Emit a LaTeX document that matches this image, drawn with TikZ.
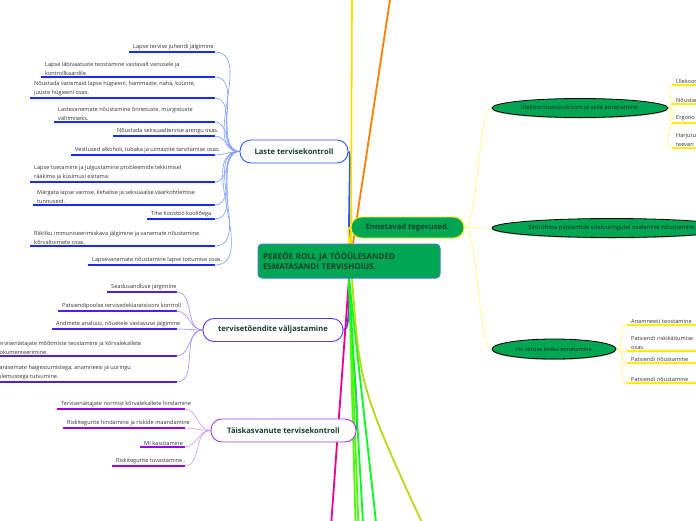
\documentclass[tikz,border=0pt]{standalone}
\usepackage{fontspec}
\setmainfont{Open Sans}
\usepackage{tikz}
\usetikzlibrary{positioning, calc, shapes.geometric, shadows, backgrounds}

\definecolor{mapgreen}{HTML}{00A651}
\definecolor{deepgreen}{HTML}{17402B}
\definecolor{leafgray}{HTML}{333333}
\definecolor{rootblue}{HTML}{3F7FD0}
\definecolor{lasteblue}{HTML}{2A5BFF}
\definecolor{lasteline}{HTML}{1A2AFF}
\definecolor{lastetwig}{HTML}{7C9CFF}
\definecolor{tvviolet}{HTML}{5A3CFF}
\definecolor{tvline}{HTML}{4A20F0}
\definecolor{tvtwig}{HTML}{9C8CFF}
\definecolor{tkpurple}{HTML}{A23CF0}
\definecolor{tkline}{HTML}{9A00EE}
\definecolor{tktwig}{HTML}{C896FF}
\definecolor{ennyellow}{HTML}{FFF200}
\definecolor{yline}{HTML}{FFEE00}
\definecolor{ytwig}{HTML}{FFFF70}

\begin{document}
\begin{tikzpicture}[
  x=1pt, y=-1pt,
  font=\fontsize{5.6}{9}\selectfont,
  leaf/.style={anchor=south west, inner xsep=4pt, inner ysep=1.5pt,
    align=left, text=leafgray},
  rleaf/.style={leaf, text width=#1pt},
  branch/.style={draw, fill=white, rounded corners=11pt, minimum height=23pt,
    line width=0.9pt, text=deepgreen, font=\fontsize{7.6}{9}\selectfont\bfseries},
  root/.style={draw=rootblue, fill=mapgreen, rounded corners=4pt, line width=1pt,
    minimum width=182pt, minimum height=34pt, text width=172pt, align=left,
    text=deepgreen, font=\fontsize{8}{10.5}\selectfont\bfseries},
  oval/.style={ellipse, draw=black, line width=0.8pt, fill=mapgreen, inner sep=0pt,
    minimum height=19pt, text=black!85, font=\fontsize{5.9}{7}\selectfont,
    drop shadow={shadow xshift=0pt, shadow yshift=-1pt, fill=black!60}},
  uline/.style={line width=1.4pt},
  twig/.style={line width=0.6pt},
  limb/.style={line width=1.8pt},
]
  \useasboundingbox (0,0) rectangle (696,520);

  \node[root] (root) at (349,261) {PEREÕE ROLL JA TÖÖÜLESANDED\\ESMATASANDI TERVISHOIUS.};

  \node[branch, draw=lasteblue, minimum width=108pt] (laste) at (294,151.5) {Laste tervisekontroll};
  \node[branch, draw=tvviolet, minimum width=140pt] (tv) at (273,330) {tervisetõendite väljastamine};
  \node[branch, draw=tkpurple, minimum width=145pt] (tk) at (283.5,430.5) {Täiskasvanute tervisekontroll};
  \node[branch, draw=ennyellow, fill=mapgreen, minimum width=113pt, minimum height=21pt,
    rounded corners=10.5pt, font=\fontsize{7.6}{9}\selectfont\bfseries] (enn) at (407.5,227.5) {Ennetavad tegevused.};

  \node[oval, minimum width=176pt] (uk) at (580,108) {Ülekoormussündroom ja selle ennetamine.};
  \node[oval, minimum width=240pt] (sr) at (612,228) {Sihtrühma patsientide sõeluuringutel osalemise nõustamine.};
  \node[oval, minimum width=124pt, minimum height=20pt, font=\fontsize{5.6}{7}\selectfont] (hi) at (554,349) {HI- viiruse leviku ennetamine};

  % laste tervisekontroll
  \node[leaf] (lt1) at (129,52) {Lapse tervise juhendi jälgimine};
  \node[leaf] (lt2) at (41,77) {Lapse läbivaatuste teostamine vastavalt vanusele ja\\kontrollkaardile.};
  \node[leaf] (lt3) at (30,98) {Nõustada vanemaid lapse hügieeni, hammaste, naha, küünte,\\juuste hügieeni osas.};
  \node[leaf] (lt4) at (54,122) {Lastevanemate nõustamine õnnetuste, mürgistuste\\vältimiseks.};
  \node[leaf] (lt5) at (113,136) {Nõustada seksuaaltervise arengu osas.};
  \node[leaf] (lt6) at (71,155) {Vestlused alkoholi, tubaka ja uimastite tarvitamise osas.};
  \node[leaf] (lt7) at (30,182) {Lapse toetamine ja julgustamine probleemide tekkimisel\\rääkima ja küsimusi esitama.};
  \node[leaf] (lt8) at (33,205) {Märgata lapse vaimse, kehalise ja seksuaalse väärkohtlemise\\tunnuseid.};
  \node[leaf] (lt9) at (147,219) {Tihe koostöö kooliõega.};
  \node[leaf] (lt10) at (30,246) {Riikliku immuniseerimiskava jälgimine ja vanemate nõustamine\\kõrvaltoimete osas.};
  \node[leaf] (lt11) at (88,265) {Lapsevanemate nõustamine lapse toitumise osas.};

  % tervisetõendite väljastamine
  \node[leaf] (tv1) at (107,292) {Seadusandluse järgimine};
  \node[leaf] (tv2) at (58,311) {Patsiendipoolse tervisedeklaratsiooni kontroll};
  \node[leaf] (tv3) at (52,329) {Andmete analüüs, nõuetele vastavuse jälgimine};
  \node[leaf] (tv4) at (-8,356) {Tervisenäitajate mõõtmiste teostamine ja kõrvalekallete\\dokumenteerimine.};
  \node[leaf] (tv5) at (-8,382) {Varasemate haigestumistega, anamneesi ja uuringu\\tulemustega tutvumine.};

  % täiskasvanute tervisekontroll
  \node[leaf] (tk1) at (57,409) {Tervisenäitajate normist kõrvalekallete hindamine};
  \node[leaf] (tk2) at (63,428) {Riskitegurite hindamine ja riskide maandamine};
  \node[leaf] (tk3) at (140,447) {MI kasutamine};
  \node[leaf] (tk4) at (112,466) {Riskitegurite tuvastamine .};

  % ennetavad tegevused
  \node[rleaf=80] (uk1) at (672,85) {Ülekoor};
  \node[rleaf=80] (uk2) at (672,104) {Nõustam};
  \node[rleaf=80] (uk3) at (672,123) {Ergono};
  \node[rleaf=80] (uk4) at (672,148) {Harjutu\\teevan};
  \node[rleaf=100] (hi1) at (627,325) {Anamneesi teostamine};
  \node[rleaf=100] (hi2) at (627,351) {Patsiendi riskikäitumise\\osas.};
  \node[rleaf=100] (hi3) at (627,363) {Patsiendi nõustamine};
  \node[rleaf=100] (hi4) at (627,383) {Patsiendi nõustamine};

  \coordinate (up1) at (352,-20);
  \coordinate (up2) at (393,-20);
  \coordinate (dn1) at (330,540);
  \coordinate (dn2) at (356,540);
  \coordinate (dn3) at (359,540);
  \coordinate (dn4) at (364,540);
  \coordinate (dn5) at (378,540);
  \coordinate (dn6) at (430,540);

  \begin{scope}[on background layer]
    \fill[white] (0,0) rectangle (696,520);

    \draw[limb, lasteblue] (root.north) .. controls +(0,-70) and +(3,0) .. (laste.east);
    \draw[limb, tvviolet] (root.south) .. controls +(0,30) and +(6,0) .. (tv.east);
    \draw[limb, tkpurple] (root.south) .. controls +(2,80) and +(2,-40) .. (tk.east);
    \draw[limb, ennyellow] (root.north) .. controls +(0,-12) and +(-4,0) .. (enn.west);
    \draw[limb, yellow!80!orange] ([xshift=2pt]root.north) -- (up1);
    \draw[limb, orange] ([xshift=4pt]root.north) -- (up2);
    \draw[limb, magenta] (root.south) -- (dn1);
    \draw[limb, green!70!yellow] (root.south) -- (dn2);
    \draw[limb, green!70!yellow] (root.south) -- (dn3);
    \draw[limb, green!90!cyan] (root.south) -- (dn4);
    \draw[limb, green!90!cyan] (root.south) -- (dn5);
    \draw[limb, yellow!70!green] ([xshift=3pt]root.south) .. controls +(8,110) .. (dn6);

    \draw[twig, ytwig] (enn.east) .. controls +(14,0) and +(-14,0) .. (uk.west);
    \draw[twig, ytwig] (enn.east) -- (sr.west);
    \draw[twig, ytwig] (enn.east) .. controls +(14,0) and +(-14,0) .. (hi.west);

    \foreach \l in {lt1,lt2,lt3,lt4,lt5,lt6,lt7,lt8,lt9,lt10,lt11}
      \draw[uline, lasteline] (\l.south west) -- ($(\l.south west -| laste.west)+(-25,0)$)
        edge[twig, lastetwig, out=0, in=180] (laste.west);
    \foreach \l in {tv1,tv2,tv3,tv4,tv5}
      \draw[uline, tvline] (\l.south west) -- ($(\l.south west -| tv.west)+(-26,0)$)
        edge[twig, tvtwig, out=0, in=180] (tv.west);
    \foreach \l in {tk1,tk2,tk3,tk4}
      \draw[uline, tkline] (\l.south west) -- ($(\l.south west -| tk.west)+(-26,0)$)
        edge[twig, tktwig, out=0, in=180] (tk.west);
    \foreach \l in {uk1,uk2,uk3,uk4}
      \draw[uline, yline] (\l.south east) -- (\l.south west)
        edge[twig, ytwig, out=180, in=0] (uk.east);
    \foreach \l in {hi1,hi2,hi3,hi4}
      \draw[uline, yline] (\l.south east) -- (\l.south west)
        edge[twig, ytwig, out=180, in=0] (hi.east);
  \end{scope}
\end{tikzpicture}
\end{document}
